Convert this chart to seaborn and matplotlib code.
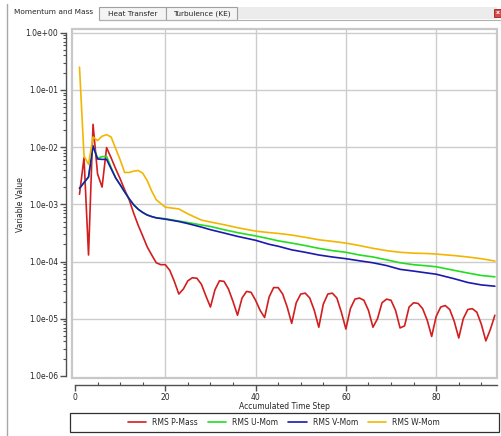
import numpy as np
import pandas as pd
import matplotlib
matplotlib.use("Agg")
import matplotlib.pyplot as plt
from matplotlib.patches import Rectangle
from matplotlib.lines import Line2D
from matplotlib.ticker import FuncFormatter, LogLocator, MultipleLocator, NullFormatter
import seaborn as sns

# RMS P-Mass, one value per time step 1..93
steps_p = list(range(1, 94))
p_mass = [1.5e-3, 6.5e-3, 1.3e-4, 2.5e-2, 3.4e-3, 2.0e-3, 9.8e-3, 6.5e-3, 4.2e-3, 2.8e-3,
          1.8e-3, 1.2e-3, 7.0e-4, 4.3e-4, 2.8e-4, 1.8e-4, 1.3e-4, 9.5e-5, 8.8e-5, 8.8e-5,
          7.0e-5, 4.5e-5, 2.7e-5, 3.3e-5, 4.6e-5, 5.2e-5, 5.1e-5, 4.0e-5, 2.5e-5, 1.6e-5,
          3.2e-5, 4.6e-5, 4.5e-5, 3.3e-5, 2.0e-5, 1.15e-5, 2.3e-5, 3.0e-5, 2.9e-5, 2.1e-5,
          1.4e-5, 1.05e-5, 2.4e-5, 3.5e-5, 3.5e-5, 2.7e-5, 1.6e-5, 8.3e-6, 1.9e-5, 2.7e-5,
          2.8e-5, 2.3e-5, 1.4e-5, 7.1e-6, 1.8e-5, 2.7e-5, 2.8e-5, 2.3e-5, 1.3e-5, 6.6e-6,
          1.5e-5, 2.2e-5, 2.3e-5, 2.1e-5, 1.4e-5, 7.1e-6, 1.0e-5, 1.9e-5, 2.2e-5, 2.1e-5,
          1.4e-5, 6.9e-6, 7.5e-6, 1.6e-5, 1.9e-5, 1.85e-5, 1.5e-5, 9.5e-6, 4.9e-6, 1.1e-5,
          1.6e-5, 1.7e-5, 1.45e-5, 9.0e-6, 4.6e-6, 1.0e-5, 1.45e-5, 1.5e-5, 1.3e-5, 8.0e-6,
          4.1e-6, 6.5e-6, 1.15e-5]

steps_m = [1, 2, 3, 4, 5, 6, 7, 8, 9, 10, 11, 12, 13, 14, 15, 16, 17, 18, 20, 23, 25, 28,
           30, 33, 36, 40, 43, 45, 48, 51, 54, 57, 60, 63, 66, 69, 72, 75, 78, 80, 84, 87,
           90, 93]
u_mom = [1.9e-3, 2.4e-3, 3.0e-3, 1.05e-2, 6.4e-3, 6.8e-3, 6.9e-3, 4.4e-3, 2.9e-3, 2.2e-3,
         1.65e-3, 1.25e-3, 9.8e-4, 8.2e-4, 7.2e-4, 6.5e-4, 6.1e-4, 5.8e-4, 5.6e-4, 5.1e-4,
         4.8e-4, 4.35e-4, 4.1e-4, 3.6e-4, 3.2e-4, 2.8e-4, 2.5e-4, 2.3e-4, 2.1e-4, 1.9e-4,
         1.7e-4, 1.55e-4, 1.45e-4, 1.3e-4, 1.2e-4, 1.07e-4, 9.5e-5, 8.8e-5, 8.4e-5, 8.1e-5,
         7.0e-5, 6.3e-5, 5.7e-5, 5.4e-5]
v_mom = [1.9e-3, 2.4e-3, 3.0e-3, 1.05e-2, 6.2e-3, 6.1e-3, 6.1e-3, 4.2e-3, 2.9e-3, 2.2e-3,
         1.65e-3, 1.25e-3, 9.8e-4, 8.2e-4, 7.2e-4, 6.5e-4, 6.1e-4, 5.8e-4, 5.5e-4, 5.0e-4,
         4.6e-4, 4.0e-4, 3.6e-4, 3.15e-4, 2.75e-4, 2.35e-4, 2.0e-4, 1.85e-4, 1.6e-4, 1.45e-4,
         1.3e-4, 1.2e-4, 1.12e-4, 1.03e-4, 9.5e-5, 8.5e-5, 7.3e-5, 6.8e-5, 6.3e-5, 6.0e-5,
         5.0e-5, 4.3e-5, 3.9e-5, 3.7e-5]
w_mom = [2.5e-1, 7.0e-3, 5.0e-3, 1.5e-2, 1.3e-2, 1.55e-2, 1.65e-2, 1.5e-2, 9.5e-3, 6.0e-3,
         3.6e-3, 3.6e-3, 3.8e-3, 3.9e-3, 3.5e-3, 2.6e-3, 1.7e-3, 1.2e-3, 8.9e-4, 8.3e-4,
         6.8e-4, 5.3e-4, 4.9e-4, 4.4e-4, 3.9e-4, 3.4e-4, 3.2e-4, 3.1e-4, 2.9e-4, 2.65e-4,
         2.4e-4, 2.25e-4, 2.1e-4, 1.9e-4, 1.7e-4, 1.55e-4, 1.45e-4, 1.4e-4, 1.38e-4, 1.35e-4,
         1.27e-4, 1.2e-4, 1.12e-4, 1.02e-4]

names = ["RMS P-Mass", "RMS U-Mom", "RMS V-Mom", "RMS W-Mom"]
colours = ["#d21e1e", "#22dd22", "#1a1aae", "#f2b600"]

frames = [pd.DataFrame({"step": steps_p, "value": p_mass, "var": names[0]})]
for nm, vals in zip(names[1:], [u_mom, v_mom, w_mom]):
    frames.append(pd.DataFrame({"step": steps_m, "value": vals, "var": nm}))
df = pd.concat(frames, ignore_index=True)

sns.set_style("white")
plt.rcParams["font.family"] = ["DejaVu Sans"]
fs = 5.5

W, H = 501, 436
fig = plt.figure(figsize=(W / 100, H / 100), dpi=100)


def fx(x):
    return x / W


def fy(y):
    return 1 - y / H


ax = fig.add_axes([fx(72), fy(378), (497 - 72) / W, (378 - 29) / H])
sns.lineplot(data=df, x="step", y="value", hue="var", palette=colours,
             hue_order=names, estimator=None, lw=1.2, ax=ax, legend=False)
ax.set_yscale("log")
ax.set_ylim(9.2e-7, 1.16)
ax.set_xlim(-0.66, 93.47)

# grid
for xv in [20, 40, 60, 80]:
    ax.axvline(xv, color="#cccccc", lw=1, zorder=0)
for yv in [1e-5, 1e-4, 1e-3, 1e-2, 1e-1, 1e0]:
    ax.axhline(yv, color="#cccccc", lw=1, zorder=0)

# light frame round the plot area
ax.add_patch(Rectangle((0, 0), 1, 1, transform=ax.transAxes, fill=False,
                       ec="#c8c8c8", lw=1.6, clip_on=False, zorder=5))
ax.spines["top"].set_visible(False)
ax.spines["right"].set_visible(False)
ax.spines["left"].set_position(("outward", 4))
ax.spines["bottom"].set_position(("outward", 5))
ax.spines["left"].set_bounds(1e-6, 1)
ax.spines["bottom"].set_bounds(0, 93.47)
for s in ["left", "bottom"]:
    ax.spines[s].set_color("#505050")
    ax.spines[s].set_linewidth(1)

ax.yaxis.set_major_locator(LogLocator(base=10, numticks=10))
ax.yaxis.set_minor_locator(LogLocator(base=10, subs=np.arange(2, 10), numticks=20))
ax.yaxis.set_major_formatter(FuncFormatter(lambda v, p: f"{v:.1e}"))
ax.yaxis.set_minor_formatter(NullFormatter())
ax.tick_params(which="both", left=True, bottom=True)
ax.tick_params(axis="y", which="major", direction="out", length=4, width=1,
               color="#505050", labelsize=fs, pad=2)
ax.tick_params(axis="y", which="minor", direction="out", length=2.5, width=0.8,
               color="#505050")
ax.xaxis.set_major_locator(MultipleLocator(20))
ax.xaxis.set_minor_locator(MultipleLocator(5))
ax.tick_params(axis="x", which="major", direction="out", length=4, width=1,
               color="#505050", labelsize=fs, pad=1.5)
ax.tick_params(axis="x", which="minor", direction="in", length=2.5, width=0.8,
               color="#505050")
ax.set_xlabel("Accumulated Time Step", fontsize=fs, labelpad=0)
ax.set_ylabel("")
fig.text(fx(20.5), fy(205), "Variable Value", rotation=90, fontsize=fs,
         ha="center", va="center")

# legend box along the bottom
fig.patches.append(Rectangle((fx(70), fy(432)), (499 - 70) / W, (432 - 413) / H,
                             transform=fig.transFigure, fill=False, ec="#303030",
                             lw=0.9))
handles = [Line2D([], [], color=c, lw=1.2) for c in colours]
fig.legend(handles, names, loc="center", bbox_to_anchor=(fx(284), fy(422.5)),
           ncol=4, frameon=False, fontsize=fs, handlelength=2.4,
           handletextpad=0.8, columnspacing=1.3)

# window chrome: tabs
fig.lines.append(Line2D([fx(7), fx(7)], [fy(4), fy(436)], transform=fig.transFigure,
                        color="#a8a8a8", lw=1))
fig.patches.append(Rectangle((fx(237), fy(19)), (497 - 237) / W, 12 / H,
                             transform=fig.transFigure, fc="#ececec", ec="none"))
fig.lines.append(Line2D([fx(99), fx(500)], [fy(20), fy(20)], transform=fig.transFigure,
                        color="#b0b0b0", lw=0.8))
for x0, x1, lab in [(99, 166, "Heat Transfer"), (166, 237, "Turbulence (KE)")]:
    fig.patches.append(Rectangle((fx(x0), fy(20)), (x1 - x0) / W, 13 / H,
                                 transform=fig.transFigure, fc="#f4f4f4",
                                 ec="#a0a0a0", lw=0.8))
    fig.text(fx((x0 + x1) / 2), fy(13.5), lab, fontsize=5.3, ha="center", va="center")
fig.text(fx(14), fy(12.5), "Momentum and Mass", fontsize=5.3, ha="left", va="center")
fig.patches.append(Rectangle((fx(494), fy(17)), 7 / W, 8 / H,
                             transform=fig.transFigure, fc="#d84a4a", ec="#a02020",
                             lw=0.6))
fig.text(fx(497.5), fy(13), "x", fontsize=4.5, color="white", ha="center",
         va="center", weight="bold")

fig.savefig("out.png", dpi=100)
